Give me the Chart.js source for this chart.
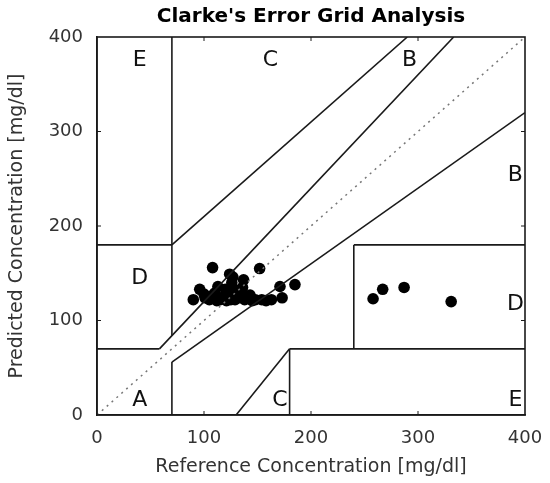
<!DOCTYPE html>
<html>
<head>
<meta charset="utf-8">
<script src="https://cdn.jsdelivr.net/npm/chart.js@4.4.1/dist/chart.umd.min.js"></script>
<style>
html,body{margin:0;padding:0;background:#fff;}
#wrap{width:550px;height:483px;}
</style>
</head>
<body>
<div id="wrap"><canvas id="c" width="550" height="483"></canvas></div>
<script>
// Measured points: reference vs predicted concentration [mg/dl]
const refValues  = [90, 96, 100, 101, 105, 107, 108, 110, 112, 113, 115, 118, 120, 121, 122, 124, 125, 126, 127, 128, 129, 131, 132, 134, 136, 137, 138, 140, 143, 145, 148, 152, 154, 158, 163, 171, 173, 185, 258, 267, 287, 331];
const predValues = [122,133, 128, 124, 122, 126, 156, 129, 121, 136, 122, 125, 133, 121, 128, 149, 122, 140, 146, 133, 122, 128, 124, 130, 135, 143, 122, 124, 127, 121, 122, 155, 122, 121, 122, 136, 124, 138, 123, 133, 135, 120];

// Zone boundary segments [x1, y1, x2, y2]
const zoneSegments = [
  [0, 70, 175/3, 70],
  [175/3, 70, 400/1.2, 400],
  [70, 84, 70, 400],
  [0, 180, 70, 180],
  [70, 180, 290, 400],
  [70, 0, 70, 56],
  [70, 56, 400, 320],
  [180, 0, 180, 70],
  [180, 70, 400, 70],
  [240, 70, 240, 180],
  [240, 180, 400, 180],
  [130, 0, 180, 70]
];
const identityLine = [0, 0, 400, 400];

// Zone labels
const zoneLetters = ['A', 'B', 'B', 'C', 'C', 'D', 'D', 'E', 'E'];
const zoneLabelX  = [40, 391, 292, 162, 171, 40, 391, 40, 391];
const zoneLabelY  = [16, 254, 375, 375, 16, 145, 117, 375, 16];

const tickValues = [0, 100, 200, 300, 400];

const FONT = '"DejaVu Sans", "Liberation Sans", Arial, sans-serif';

const datasets = [];
datasets.push({
  data: [{x: identityLine[0], y: identityLine[1]}, {x: identityLine[2], y: identityLine[3]}],
  showLine: true, pointRadius: 0, borderColor: '#777', borderWidth: 1.5, borderDash: [2, 4.5]
});
zoneSegments.forEach(s => {
  datasets.push({
    data: [{x: s[0], y: s[1]}, {x: s[2], y: s[3]}],
    showLine: true, pointRadius: 0, borderColor: '#1a1a1a', borderWidth: 1.6
  });
});
datasets.push({
  data: refValues.map((v, i) => ({x: v, y: predValues[i]})),
  showLine: false, pointRadius: 5.8, pointBackgroundColor: '#000', pointBorderColor: '#000', borderWidth: 0
});

const framePlugin = {
  id: 'frame',
  afterDatasetsDraw(chart) {
    const {ctx, chartArea: a, scales: {x, y}} = chart;
    ctx.save();
    ctx.strokeStyle = '#1a1a1a';
    ctx.lineWidth = 1.6;
    ctx.strokeRect(a.left, a.top, a.right - a.left, a.bottom - a.top);
    // inward tick marks
    ctx.lineWidth = 1;
    tickValues.slice(1, -1).forEach(v => {
      const px = x.getPixelForValue(v);
      const py = y.getPixelForValue(v);
      ctx.beginPath();
      ctx.moveTo(px, a.bottom); ctx.lineTo(px, a.bottom - 4);
      ctx.moveTo(px, a.top); ctx.lineTo(px, a.top + 4);
      ctx.moveTo(a.left, py); ctx.lineTo(a.left + 4, py);
      ctx.moveTo(a.right, py); ctx.lineTo(a.right - 4, py);
      ctx.stroke();
    });
    // zone letters
    ctx.fillStyle = '#111';
    ctx.font = '22px ' + FONT;
    ctx.textAlign = 'center';
    ctx.textBaseline = 'middle';
    zoneLetters.forEach((t, i) => {
      ctx.fillText(t, x.getPixelForValue(zoneLabelX[i]), y.getPixelForValue(zoneLabelY[i]));
    });
    ctx.restore();
  }
};

new Chart(document.getElementById('c'), {
  type: 'scatter',
  data: { datasets },
  options: {
    responsive: false,
    animation: false,
    layout: { padding: { right: 25, top: 0, left: 0, bottom: 0 } },
    plugins: {
      legend: { display: false },
      tooltip: { enabled: false },
      title: {
        display: true,
        text: "Clarke's Error Grid Analysis",
        fullSize: false,
        color: '#000',
        font: { family: FONT, size: 20, weight: 'bold', lineHeight: 1.1 },
        padding: { top: 6, bottom: 9 }
      }
    },
    scales: {
      x: {
        type: 'linear', min: 0, max: 400,
        afterBuildTicks(s) { s.ticks = tickValues.map(v => ({value: v})); },
        afterFit(s) { s.height = 68; s.paddingLeft = 0; s.paddingRight = 0; },
        grid: { display: false, drawTicks: false },
        border: { display: true, color: '#1a1a1a', width: 1.6 },
        ticks: { padding: 13, color: '#333', font: { family: FONT, size: 18 }, maxRotation: 0 },
        title: { display: true, text: 'Reference Concentration [mg/dl]', color: '#333',
          font: { family: FONT, size: 19 }, padding: { top: 0, bottom: 5 } }
      },
      y: {
        type: 'linear', min: 0, max: 400,
        afterBuildTicks(s) { s.ticks = tickValues.map(v => ({value: v})); },
        afterFit(s) { s.width = 97; s.paddingTop = 0; s.paddingBottom = 0; },
        grid: { display: false, drawTicks: false },
        border: { display: true, color: '#1a1a1a', width: 1.6 },
        ticks: { padding: 14, color: '#333', font: { family: FONT, size: 18 } },
        title: { display: true, text: 'Predicted Concentration [mg/dl]', color: '#333',
          font: { family: FONT, size: 19 }, padding: { top: 6, bottom: 0 } }
      }
    }
  },
  plugins: [framePlugin]
});
</script>
</body>
</html>
